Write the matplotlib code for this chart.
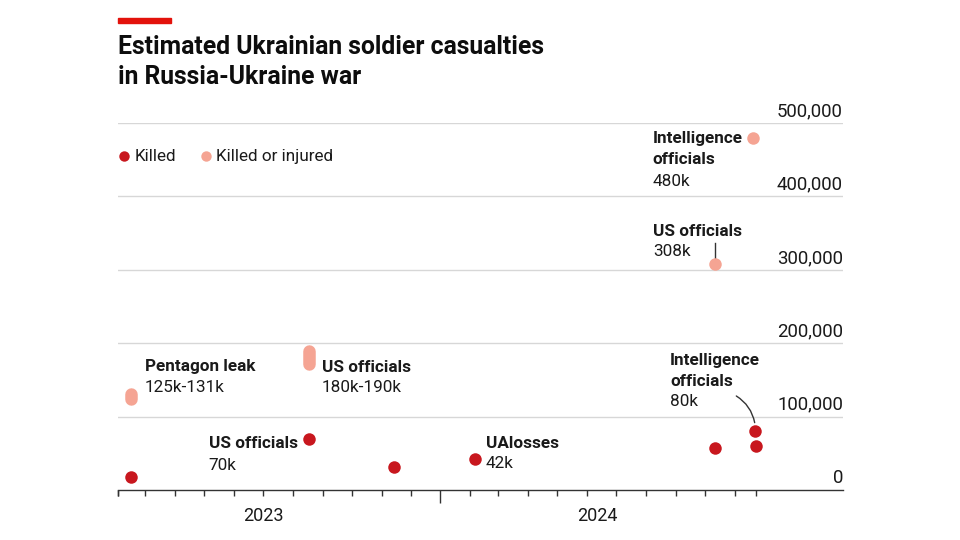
import matplotlib
matplotlib.use("Agg")
import matplotlib.pyplot as plt
import matplotlib.dates as mdates
import matplotlib.transforms as mtransforms
from datetime import date

plt.rcParams['font.family'] = ['Roboto', 'DejaVu Sans']

# ---------------- data ----------------
killed_dates = [date(2023, 2, 14), date(2023, 8, 18), date(2023, 11, 14), date(2024, 2, 6),
                date(2024, 10, 11), date(2024, 11, 22), date(2024, 11, 23)]
killed_values = [17500, 70000, 31000, 42000, 57000, 80000, 60000]

inj_range_dates = [date(2023, 2, 14), date(2023, 8, 18)]
inj_range_low = [124000, 172000]
inj_range_high = [131000, 190000]

inj_point_dates = [date(2024, 10, 11), date(2024, 11, 20)]
inj_point_values = [308000, 480000]

y_ticks = [0, 100000, 200000, 300000, 400000, 500000]
y_tick_labels = ["0", "100,000", "200,000", "300,000", "400,000", "500,000"]

x_minor_ticks = [date(2023, m, 1) for m in range(2, 13)] + \
                [date(2024, m, 1) for m in range(2, 12)] + [date(2024, 11, 23)]
x_major_ticks = [date(2024, 1, 1)]
year_labels = ["2023", "2024"]
year_label_pos = [date(2023, 7, 2), date(2024, 6, 12)]

title = "Estimated Ukrainian soldier casualties\nin Russia-Ukraine war"

# ---------------- style ----------------
RED = "#c8171e"
PINK = "#f5a493"
GRID = "#d7d7d7"
AXIS = "#333333"
TXT = "#1a1a1a"
FS = 12.3

fig = plt.figure(figsize=(9.6, 5.4), dpi=100)
ax = fig.add_axes([118/960, (540-490)/540, (843-118)/960, (490-123)/540])

xmin = mdates.date2num(date(2023, 2, 1))
xmax = mdates.date2num(date(2025, 2, 21))
ax.set_xlim(xmin, xmax)
ax.set_ylim(0, 500000)

for s in ["top", "right", "left"]:
    ax.spines[s].set_visible(False)
ax.spines["bottom"].set_color(AXIS)
ax.spines["bottom"].set_linewidth(1.0)

# gridlines
for v in y_ticks[1:]:
    ax.axhline(v, color=GRID, lw=1.0, zorder=1)
ax.set_yticks([])

# y labels, right aligned above gridlines
trans = mtransforms.blended_transform_factory(ax.transAxes, ax.transData) + \
    mtransforms.ScaledTranslation(0, 2/72, fig.dpi_scale_trans)
for v, lab in zip(y_ticks, y_tick_labels):
    ax.text(1.0, v, lab, transform=trans, ha="right", va="bottom", fontsize=13.4,
            color=TXT)

# x ticks
ax.set_xticks([mdates.date2num(d) for d in x_minor_ticks] + [xmin], minor=True)
ax.set_xticks([mdates.date2num(d) for d in x_major_ticks])
ax.set_xticklabels([])
ax.tick_params(axis="x", which="minor", length=4.5, width=1, color=AXIS, direction="out")
ax.tick_params(axis="x", which="major", length=9.5, width=1, color=AXIS, direction="out")
for d, lab in zip(year_label_pos, year_labels):
    ax.text(mdates.date2num(d), -0.07, lab,
            transform=mtransforms.blended_transform_factory(ax.transData, ax.transAxes),
            ha="center", va="center", fontsize=13, color=TXT)

# data
ms = 9
kd = [mdates.date2num(d) for d in killed_dates]
ax.plot(kd, killed_values, "o", ms=ms, color=RED, mec="none", zorder=4, clip_on=False)
for d, lo, hi in zip(inj_range_dates, inj_range_low, inj_range_high):
    x = mdates.date2num(d)
    ax.plot([x, x], [lo, hi], color=PINK, lw=ms, solid_capstyle="round", zorder=3, clip_on=False)
ax.plot([mdates.date2num(d) for d in inj_point_dates], inj_point_values, "o", ms=ms,
        color=PINK, mec="none", zorder=3, clip_on=False)

# annotations
def note(d, y_px, head, body, dy=21):
    x = mdates.date2num(d)
    tr = mtransforms.blended_transform_factory(ax.transData, fig.transFigure)
    yy = y_px
    for ln in head.split("\n"):
        ax.text(x, 1 - yy/540, ln, transform=tr, ha="left", va="center", fontsize=FS,
                fontweight="bold", color=TXT)
        yy += dy
    ax.text(x, 1 - yy/540, body, transform=tr, ha="left", va="center", fontsize=FS, color=TXT)

note(date(2023, 3, 1), 367, "Pentagon leak", "125k-131k")
note(date(2023, 8, 31), 367, "US officials", "180k-190k")
note(date(2023, 5, 6), 443, "US officials", "70k", dy=23)
note(date(2024, 2, 17), 443, "UAlosses", "42k")
note(date(2024, 8, 26), 360, "Intelligence\nofficials", "80k")
note(date(2024, 8, 8), 139, "Intelligence\nofficials", "480k")
note(date(2024, 8, 8), 231, "US officials", "308k")

# connectors
x308 = mdates.date2num(inj_point_dates[0])
ax.plot([x308, x308], [336000, 315000], color=AXIS, lw=1.0, zorder=2)
ax.annotate("", xy=(mdates.date2num(date(2024, 11, 22)), 88000),
            xytext=(mdates.date2num(date(2024, 10, 31)), 130000),
            arrowprops=dict(arrowstyle="-", color=AXIS, lw=1.0,
                            connectionstyle="arc3,rad=-0.25"))

# legend (manual)
ax.plot([mdates.date2num(date(2023, 2, 7))], [455000], "o", ms=7.5, color=RED, mec="none", clip_on=False)
ax.text(mdates.date2num(date(2023, 2, 18)), 455000, "Killed", fontsize=FS, va="center", color=TXT)
ax.plot([mdates.date2num(date(2023, 5, 3))], [455000], "o", ms=7.5, color=PINK, mec="none", clip_on=False)
ax.text(mdates.date2num(date(2023, 5, 14)), 455000, "Killed or injured", fontsize=FS, va="center", color=TXT)

# title and red bar
t1, t2 = title.split("\n")
fig.text(118/960, 1 - 47/540, t1, fontsize=17.8, fontweight="bold", va="center", ha="left", color="#0d0d0d")
fig.text(118/960, 1 - 77/540, t2, fontsize=17.8, fontweight="bold", va="center", ha="left", color="#0d0d0d")
fig.patches.append(plt.Rectangle((118/960, 1 - 23/540), 53/960, 5/540, transform=fig.transFigure,
                                 color="#e3120b", figure=fig))

fig.savefig("out.png", dpi=100, facecolor="white")
